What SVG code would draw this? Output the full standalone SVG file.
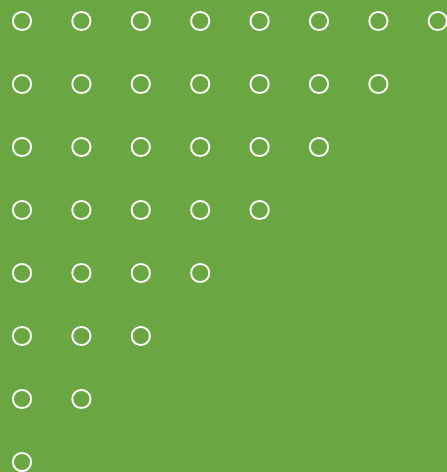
<svg xmlns="http://www.w3.org/2000/svg" width="447" height="472" viewBox="0 0 447 472">
<style>
circle{fill:none;stroke:#ffffff;stroke-width:2}
</style>
<defs><circle id="c" r="9.1"/></defs>
<rect width="447" height="472" fill="#6aa642"/>
<g id="row1">
<use href="#c" x="22" y="21"/><use href="#c" x="81.4" y="21"/><use href="#c" x="140.8" y="21"/><use href="#c" x="200.2" y="21"/><use href="#c" x="259.6" y="21"/><use href="#c" x="319" y="21"/><use href="#c" x="378.4" y="21"/><use href="#c" x="437.8" y="21"/>
</g>
<g id="row2">
<use href="#c" x="22" y="84"/><use href="#c" x="81.4" y="84"/><use href="#c" x="140.8" y="84"/><use href="#c" x="200.2" y="84"/><use href="#c" x="259.6" y="84"/><use href="#c" x="319" y="84"/><use href="#c" x="378.4" y="84"/>
</g>
<g id="row3">
<use href="#c" x="22" y="147"/><use href="#c" x="81.4" y="147"/><use href="#c" x="140.8" y="147"/><use href="#c" x="200.2" y="147"/><use href="#c" x="259.6" y="147"/><use href="#c" x="319" y="147"/>
</g>
<g id="row4">
<use href="#c" x="22" y="210"/><use href="#c" x="81.4" y="210"/><use href="#c" x="140.8" y="210"/><use href="#c" x="200.2" y="210"/><use href="#c" x="259.6" y="210"/>
</g>
<g id="row5">
<use href="#c" x="22" y="273"/><use href="#c" x="81.4" y="273"/><use href="#c" x="140.8" y="273"/><use href="#c" x="200.2" y="273"/>
</g>
<g id="row6">
<use href="#c" x="22" y="336"/><use href="#c" x="81.4" y="336"/><use href="#c" x="140.8" y="336"/>
</g>
<g id="row7">
<use href="#c" x="22" y="399"/><use href="#c" x="81.4" y="399"/>
</g>
<g id="row8">
<use href="#c" x="22" y="462"/>
</g>
</svg>
